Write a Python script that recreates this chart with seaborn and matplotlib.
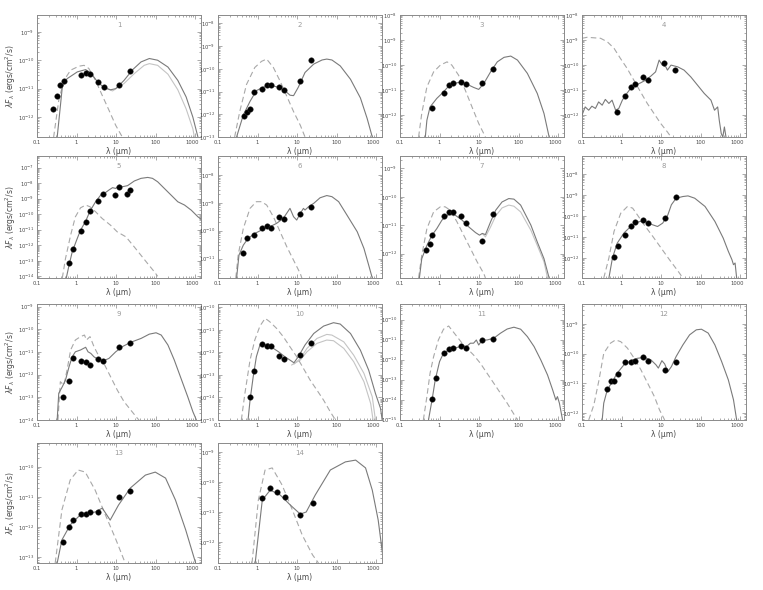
import numpy as np
import matplotlib
matplotlib.use("Agg")
import matplotlib.pyplot as plt
import matplotlib.transforms as mtransforms
import seaborn as sns
from matplotlib.ticker import LogLocator, FixedLocator, FixedFormatter, NullFormatter

sns.set_style("ticks")
plt.rcParams['font.family'] = ['DejaVu Sans']
plt.rcParams['mathtext.fontset'] = 'dejavusans'

# ---------------- data (log10 wavelength [um], log10 lambda*F_lambda [erg/cm2/s]) ----------------
xtick_values = [0.1, 1, 10, 100, 1000]
xtick_labels = ["0.1", "1", "10", "100", "1000"]
panel_ids = [1, 2, 3, 4, 5, 6, 7, 8, 9, 10, 11, 12, 13, 14]
ylims = [(-12.7, -8.41), (-13.0, -7.63), (-12.87, -8.0), (-12.87, -8.0),
         (-14.11, -6.25), (-11.70, -7.32), (-12.86, -8.56), (-12.93, -7.15),
         (-14.0, -8.88), (-15.0, -9.85), (-15.02, -9.22), (-12.24, -8.33),
         (-13.2, -9.2), (-12.7, -8.7)]

# panel 1
obs1_x = [-0.60, -0.49, -0.42, -0.33, 0.10, 0.24, 0.34, 0.53, 0.69, 1.08, 1.36]
obs1_y = [-11.71, -11.26, -10.88, -10.73, -10.51, -10.44, -10.48, -10.75, -10.95, -10.87, -10.38]
mod1_x = [-0.49, -0.42, -0.36, -0.24, 0.02, 0.23, 0.36, 0.53, 0.69, 0.86, 0.99, 1.20, 1.42, 1.63, 1.84, 2.05, 2.31, 2.56, 2.77, 2.94, 3.07]
mod1_y = [-12.71, -11.76, -10.94, -10.65, -10.41, -10.33, -10.45, -10.76, -10.96, -11.04, -11.00, -10.71, -10.33, -10.06, -9.94, -10.00, -10.24, -10.71, -11.29, -12.00, -12.71]
mod1b_x = [0.69, 0.91, 1.20, 1.46, 1.71, 1.84, 2.05, 2.31, 2.56, 2.77, 2.94, 2.98]
mod1b_y = [-10.96, -11.08, -10.82, -10.47, -10.18, -10.12, -10.18, -10.49, -11.04, -11.71, -12.41, -12.71]
star1_x = [-0.58, -0.45, -0.32, -0.15, 0.06, 0.19, 0.31, 0.48, 0.65, 0.82, 0.99, 1.16]
star1_y = [-12.71, -11.41, -10.71, -10.35, -10.21, -10.18, -10.29, -10.71, -11.24, -11.76, -12.29, -12.71]

# panel 2
obs2_x = [-0.35, -0.26, -0.19, -0.08, 0.10, 0.25, 0.34, 0.53, 0.68, 1.08, 1.36]
obs2_y = [-12.06, -11.88, -11.76, -11.03, -10.90, -10.73, -10.73, -10.78, -10.91, -10.54, -9.61]
mod2_x = [-0.53, -0.36, -0.19, -0.03, 0.14, 0.31, 0.53, 0.69, 0.82, 0.91, 1.03, 1.20, 1.42, 1.63, 1.75, 1.88, 2.09, 2.35, 2.60, 2.77, 2.90]
mod2_y = [-13.0, -12.03, -11.43, -10.96, -10.81, -10.72, -10.81, -10.96, -11.16, -11.18, -10.81, -10.16, -9.79, -9.61, -9.57, -9.61, -9.87, -10.46, -11.28, -12.18, -13.0]
star2_x = [-0.58, -0.45, -0.28, -0.07, 0.10, 0.23, 0.40, 0.57, 0.74, 0.91, 1.08, 1.20]
star2_y = [-13.0, -11.88, -10.69, -9.94, -9.67, -9.57, -9.94, -10.54, -11.21, -11.88, -12.48, -13.0]

# panel 3
obs3_x = [-0.19, 0.10, 0.23, 0.34, 0.53, 0.68, 1.08, 1.36]
obs3_y = [-11.73, -11.13, -10.80, -10.71, -10.67, -10.77, -10.73, -10.17]
mod3_x = [-0.36, -0.32, -0.24, -0.07, 0.10, 0.23, 0.36, 0.53, 0.69, 0.86, 0.99, 1.12, 1.29, 1.46, 1.63, 1.80, 1.97, 2.22, 2.47, 2.64, 2.77]
mod3_y = [-12.87, -12.2, -11.67, -11.33, -11.07, -10.84, -10.73, -10.68, -10.76, -10.89, -10.97, -10.73, -10.27, -9.87, -9.69, -9.64, -9.80, -10.33, -11.13, -11.93, -12.87]
star3_x = [-0.53, -0.45, -0.32, -0.15, 0.02, 0.19, 0.31, 0.48, 0.65, 0.82, 0.99, 1.16]
star3_y = [-12.87, -11.93, -10.87, -10.27, -10.0, -9.87, -10.0, -10.4, -11.0, -11.67, -12.33, -12.87]

# panel 4
obs4_x = [-0.11, 0.08, 0.23, 0.34, 0.53, 0.67, 1.08, 1.35]
obs4_y = [-11.87, -11.24, -10.87, -10.76, -10.49, -10.6, -9.93, -10.2]
mod4_x = [-1.0, -0.92, -0.83, -0.75, -0.66, -0.58, -0.49, -0.41, -0.32, -0.24, -0.15, -0.07, 0.02, 0.10, 0.23, 0.36, 0.48, 0.61, 0.74, 0.86, 0.95, 1.03, 1.12, 1.16, 1.25, 1.42, 1.58, 1.75, 1.92, 2.09, 2.26, 2.35, 2.43, 2.47, 2.52, 2.56, 2.60, 2.64]
mod4_y = [-12.0, -11.67, -11.8, -11.64, -11.73, -11.47, -11.6, -11.37, -11.53, -11.4, -11.8, -11.73, -11.4, -11.2, -10.93, -10.8, -10.71, -10.6, -10.44, -10.27, -9.8, -10.0, -10.07, -10.2, -10.0, -10.07, -10.2, -10.47, -10.8, -11.13, -11.4, -11.8, -11.67, -12.2, -12.73, -12.87, -12.47, -12.87]
star4_x = [-1.0, -0.87, -0.70, -0.53, -0.36, -0.19, -0.03, 0.14, 0.31, 0.48, 0.65, 0.82, 0.99, 1.16, 1.25]
star4_y = [-8.93, -8.89, -8.91, -8.93, -9.07, -9.33, -9.73, -10.13, -10.6, -11.07, -11.53, -11.93, -12.33, -12.67, -12.87]

# panel 5
obs5_x = [-0.18, -0.08, 0.10, 0.23, 0.34, 0.53, 0.68, 0.97, 1.08, 1.27, 1.36]
obs5_y = [-13.12, -12.22, -11.09, -10.49, -9.78, -9.16, -8.72, -8.77, -8.27, -8.70, -8.44]
mod5_x = [-0.26, -0.19, -0.11, 0.0, 0.10, 0.23, 0.34, 0.48, 0.61, 0.74, 0.82, 0.91, 0.99, 1.08, 1.16, 1.29, 1.46, 1.63, 1.80, 1.92, 2.05, 2.22, 2.39, 2.56, 2.73, 2.90, 3.07, 3.15]
mod5_y = [-14.11, -13.29, -12.43, -11.68, -11.03, -10.45, -9.80, -9.20, -8.77, -8.59, -8.44, -8.29, -8.34, -8.12, -8.23, -8.16, -7.86, -7.69, -7.63, -7.69, -7.91, -8.34, -8.77, -9.20, -9.41, -9.74, -10.17, -10.32]
star5_x = [-0.36, -0.28, -0.15, -0.03, 0.10, 0.23, 0.34, 0.48, 0.65, 0.86, 1.03, 1.25, 1.46, 1.63, 1.80, 1.97, 2.05]
star5_y = [-14.11, -12.86, -11.35, -10.17, -9.59, -9.41, -9.52, -9.84, -10.28, -10.71, -11.14, -11.46, -12.11, -12.65, -13.19, -13.72, -14.0]

# panel 6
obs6_x = [-0.36, -0.26, -0.09, 0.10, 0.23, 0.34, 0.53, 0.68, 1.08, 1.36]
obs6_y = [-10.80, -10.28, -10.14, -9.90, -9.84, -9.90, -9.51, -9.58, -9.40, -9.14]
mod6_x = [-0.53, -0.47, -0.36, -0.24, -0.07, 0.10, 0.31, 0.48, 0.65, 0.82, 0.91, 0.99, 1.08, 1.16, 1.20, 1.29, 1.42, 1.58, 1.75, 1.88, 2.05, 2.26, 2.52, 2.69, 2.81, 2.90]
mod6_y = [-11.70, -10.88, -10.52, -10.28, -10.10, -9.98, -9.86, -9.74, -9.56, -9.20, -9.50, -9.62, -9.38, -9.20, -9.26, -9.14, -9.02, -8.82, -8.74, -8.78, -8.96, -9.44, -10.04, -10.64, -11.24, -11.70]
star6_x = [-0.55, -0.49, -0.36, -0.19, -0.03, 0.10, 0.23, 0.40, 0.57, 0.74, 0.91, 1.08, 1.12]
star6_y = [-11.70, -10.88, -9.92, -9.20, -8.96, -8.96, -9.08, -9.50, -10.04, -10.58, -11.06, -11.54, -11.70]

# panel 7
obs7_x = [-0.35, -0.25, -0.18, 0.10, 0.23, 0.34, 0.53, 0.68, 1.08, 1.36]
obs7_y = [-11.88, -11.67, -11.33, -10.67, -10.53, -10.55, -10.68, -10.91, -11.56, -10.59]
mod7_x = [-0.51, -0.45, -0.32, -0.19, -0.07, 0.06, 0.23, 0.40, 0.57, 0.74, 0.91, 1.01, 1.08, 1.16, 1.29, 1.42, 1.58, 1.75, 1.88, 2.05, 2.31, 2.47, 2.64, 2.77]
mod7_y = [-12.86, -12.18, -11.71, -11.35, -11.12, -10.82, -10.62, -10.65, -10.82, -11.06, -11.26, -11.35, -11.29, -11.33, -10.88, -10.47, -10.18, -10.06, -10.08, -10.29, -11.0, -11.59, -12.18, -12.86]
mod7b_x = [1.08, 1.16, 1.29, 1.42, 1.58, 1.75, 1.88, 2.05, 2.31, 2.47, 2.64, 2.73]
mod7b_y = [-11.29, -11.41, -11.06, -10.67, -10.39, -10.29, -10.33, -10.53, -11.18, -11.71, -12.29, -12.86]
star7_x = [-0.53, -0.45, -0.32, -0.15, 0.02, 0.14, 0.27, 0.44, 0.61, 0.78, 0.95, 1.12, 1.16]
star7_y = [-12.86, -12.06, -11.12, -10.53, -10.35, -10.35, -10.47, -10.88, -11.35, -11.82, -12.29, -12.71, -12.86]

# panel 8
obs8_x = [-0.19, -0.09, 0.09, 0.23, 0.34, 0.55, 0.68, 1.09, 1.37]
obs8_y = [-11.95, -11.40, -10.88, -10.46, -10.30, -10.19, -10.33, -10.09, -9.10]
mod8_x = [-0.32, -0.23, -0.11, 0.06, 0.23, 0.40, 0.57, 0.74, 0.91, 1.04, 1.17, 1.26, 1.38, 1.55, 1.68, 1.85, 2.11, 2.36, 2.57, 2.70, 2.79, 2.83, 2.87, 2.91]
mod8_y = [-12.93, -11.98, -11.28, -10.80, -10.49, -10.28, -10.22, -10.38, -10.49, -10.33, -9.94, -9.46, -9.15, -9.07, -9.04, -9.15, -9.54, -10.25, -11.04, -11.67, -12.06, -12.30, -12.22, -12.93]
star8_x = [-0.45, -0.32, -0.19, -0.02, 0.15, 0.28, 0.40, 0.57, 0.79, 1.0, 1.21, 1.43, 1.55]
star8_y = [-12.93, -11.98, -10.72, -9.86, -9.54, -9.62, -9.94, -10.41, -10.96, -11.51, -12.06, -12.61, -12.93]

# panel 9
obs9_x = [-0.35, -0.18, -0.08, 0.10, 0.24, 0.34, 0.53, 0.68, 1.08, 1.36]
obs9_y = [-13.0, -12.26, -11.28, -11.40, -11.46, -11.57, -11.32, -11.40, -10.79, -10.62]
mod9_x = [-0.49, -0.45, -0.36, -0.28, -0.19, -0.11, -0.03, 0.10, 0.23, 0.29, 0.36, 0.44, 0.57, 0.69, 0.82, 0.99, 1.16, 1.37, 1.63, 1.84, 2.01, 2.14, 2.31, 2.47, 2.64, 2.81, 2.94, 3.03]
mod9_y = [-14.0, -12.82, -12.53, -12.24, -11.65, -11.21, -10.99, -10.91, -10.79, -10.99, -11.06, -11.21, -11.35, -11.38, -11.28, -10.99, -10.76, -10.57, -10.40, -10.21, -10.15, -10.25, -10.69, -11.35, -12.16, -12.97, -13.63, -14.0]
star9_x = [-0.47, -0.41, -0.32, -0.24, -0.15, -0.03, 0.10, 0.20, 0.25, 0.34, 0.44, 0.57, 0.69, 0.86, 1.03, 1.20, 1.37, 1.54, 1.58]
star9_y = [-14.0, -12.31, -12.46, -11.79, -10.91, -10.47, -10.32, -10.25, -10.47, -10.32, -10.76, -11.21, -11.50, -12.09, -12.68, -13.19, -13.56, -13.93, -14.0]

# panel 10
obs10_x = [-0.19, -0.09, 0.10, 0.25, 0.34, 0.53, 0.68, 1.08, 1.36]
obs10_y = [-14.0, -12.81, -11.64, -11.72, -11.72, -12.15, -12.27, -12.13, -11.57]
mod10_x = [-0.24, -0.19, -0.11, -0.03, 0.06, 0.19, 0.27, 0.40, 0.53, 0.69, 0.82, 0.92, 1.03, 1.20, 1.42, 1.67, 1.92, 2.09, 2.35, 2.60, 2.81, 2.98, 3.11, 3.15]
mod10_y = [-15.0, -14.12, -13.08, -12.19, -11.67, -11.67, -11.60, -11.82, -11.97, -12.19, -12.34, -12.46, -12.19, -11.67, -11.16, -10.83, -10.68, -10.74, -11.16, -11.90, -12.79, -13.82, -14.49, -15.0]
mod10b_x = [0.92, 1.08, 1.25, 1.50, 1.75, 1.88, 2.18, 2.43, 2.69, 2.90, 2.98]
mod10b_y = [-12.52, -12.27, -11.82, -11.38, -11.20, -11.23, -11.53, -12.12, -12.93, -13.97, -15.0]
mod10c_x = [0.86, 1.08, 1.25, 1.50, 1.75, 1.92, 2.18, 2.43, 2.69, 2.86, 2.92]
mod10c_y = [-12.56, -12.34, -11.97, -11.60, -11.45, -11.48, -11.82, -12.41, -13.30, -14.27, -15.0]
star10_x = [-0.41, -0.32, -0.19, -0.07, 0.06, 0.19, 0.25, 0.31, 0.48, 0.65, 0.82, 0.99, 1.16, 1.33, 1.50, 1.67, 1.84, 1.97]
star10_y = [-15.0, -13.82, -12.34, -11.45, -10.83, -10.49, -10.56, -10.64, -10.93, -11.30, -11.75, -12.19, -12.71, -13.23, -13.67, -14.12, -14.64, -15.0]

# panel 11
obs11_x = [-0.19, -0.09, 0.10, 0.23, 0.34, 0.53, 0.68, 1.08, 1.36]
obs11_y = [-13.98, -12.93, -11.65, -11.47, -11.40, -11.30, -11.40, -11.02, -10.97]
mod11_x = [-0.28, -0.19, -0.11, 0.0, 0.10, 0.23, 0.36, 0.53, 0.68, 0.78, 0.86, 0.93, 0.99, 1.08, 1.20, 1.37, 1.54, 1.71, 1.88, 2.05, 2.22, 2.39, 2.56, 2.73, 2.86, 2.94, 2.98, 3.03, 3.11]
mod11_y = [-15.02, -14.02, -13.02, -12.10, -11.68, -11.52, -11.43, -11.35, -11.35, -11.18, -11.18, -11.02, -11.27, -11.02, -11.02, -10.93, -10.68, -10.47, -10.38, -10.48, -10.85, -11.35, -12.02, -12.77, -13.52, -14.02, -13.85, -14.18, -15.02]
star11_x = [-0.41, -0.32, -0.24, -0.15, -0.03, 0.10, 0.23, 0.31, 0.44, 0.57, 0.69, 0.86, 1.03, 1.20, 1.37, 1.54, 1.71, 1.84, 1.97]
star11_y = [-15.02, -13.85, -12.68, -11.85, -11.02, -10.48, -10.32, -10.52, -10.85, -11.18, -11.43, -11.77, -12.18, -12.68, -13.18, -13.68, -14.18, -14.60, -15.02]

# panel 12
obs12_x = [-0.36, -0.26, -0.19, -0.09, 0.09, 0.23, 0.34, 0.55, 0.68, 1.09, 1.37]
obs12_y = [-11.20, -10.94, -10.94, -10.69, -10.30, -10.27, -10.24, -10.12, -10.25, -10.57, -10.30]
mod12_x = [-0.49, -0.45, -0.36, -0.23, -0.11, 0.06, 0.23, 0.40, 0.57, 0.74, 0.87, 0.93, 1.02, 1.09, 1.17, 1.26, 1.38, 1.55, 1.72, 1.89, 2.02, 2.19, 2.36, 2.53, 2.70, 2.83, 2.91]
mod12_y = [-12.24, -11.67, -11.22, -10.94, -10.66, -10.38, -10.24, -10.16, -10.13, -10.21, -10.38, -10.49, -10.24, -10.35, -10.61, -10.44, -10.10, -9.71, -9.37, -9.20, -9.18, -9.31, -9.71, -10.27, -10.89, -11.56, -12.24]
star12_x = [-0.83, -0.70, -0.57, -0.45, -0.28, -0.15, -0.02, 0.15, 0.32, 0.49, 0.66, 0.83, 0.96, 1.09]
star12_y = [-12.24, -11.73, -10.89, -9.99, -9.65, -9.54, -9.60, -9.82, -10.16, -10.55, -11.0, -11.45, -11.90, -12.24]

# panel 13
obs13_x = [-0.35, -0.19, -0.09, 0.10, 0.23, 0.34, 0.53, 1.08, 1.36]
obs13_y = [-12.5, -12.0, -11.75, -11.55, -11.55, -11.5, -11.5, -11.0, -10.8]
mod13_x = [-0.49, -0.37, -0.16, 0.09, 0.47, 0.65, 0.85, 1.06, 1.36, 1.74, 1.99, 2.25, 2.50, 2.76, 3.01]
mod13_y = [-13.2, -12.43, -11.93, -11.6, -11.5, -11.37, -11.77, -11.27, -10.7, -10.27, -10.17, -10.37, -11.1, -12.1, -13.2]
star13_x = [-0.54, -0.37, -0.16, 0.04, 0.22, 0.47, 0.73, 0.98, 1.23]
star13_y = [-13.2, -11.43, -10.43, -10.1, -10.17, -10.77, -11.6, -12.37, -13.2]

# panel 14
obs14_x = [0.12, 0.32, 0.50, 0.70, 1.08, 1.39]
obs14_y = [-10.53, -10.2, -10.33, -10.5, -11.1, -10.7]
mod14_x = [-0.06, 0.12, 0.32, 0.57, 0.83, 1.08, 1.23, 1.46, 1.84, 2.22, 2.48, 2.73, 2.90, 3.05, 3.19]
mod14_y = [-12.7, -10.6, -10.27, -10.43, -10.77, -11.07, -11.0, -10.43, -9.6, -9.33, -9.27, -9.53, -10.27, -11.27, -12.7]
star14_x = [-0.14, 0.02, 0.19, 0.37, 0.62, 0.88, 1.13, 1.39, 1.54]
star14_y = [-12.7, -10.6, -9.6, -9.53, -10.1, -10.93, -11.77, -12.43, -12.7]

# ---------------- assembly ----------------
g = globals()
panels = []
for k, pid in enumerate(panel_ids):
    extras = []
    for suf in ("b", "c"):
        if f"mod{pid}{suf}_x" in g:
            extras.append((g[f"mod{pid}{suf}_x"], g[f"mod{pid}{suf}_y"]))
    panels.append(dict(pid=pid,
                       obs=(g[f"obs{pid}_x"], g[f"obs{pid}_y"]),
                       mod=(g[f"mod{pid}_x"], g[f"mod{pid}_y"]),
                       star=(g[f"star{pid}_x"], g[f"star{pid}_y"]),
                       extras=extras, ylim=ylims[k]))

def L(v):
    return 10.0 ** np.asarray(v, dtype=float)

W, H = 763, 590
fig = plt.figure(figsize=(W / 100, H / 100), dpi=100)
col_left = [37, 218, 400, 582]
row_top = [15, 156, 304, 443]
row_bot = [137, 278, 420, 563]
aw = 164

FRAME = "#8a8a8a"
MODC = "#7a7a7a"
EXTRAC = "#c4c4c4"
STARC = "#a8a8a8"
TXT = "#4a4a4a"

axes = []
for i, p in enumerate(panels):
    r, c = divmod(i, 4)
    ax = fig.add_axes([col_left[c] / W, 1 - row_bot[r] / H, aw / W,
                       (row_bot[r] - row_top[r]) / H])
    axes.append(ax)
    for ex, ey in p["extras"]:
        sns.lineplot(x=L(ex), y=L(ey), ax=ax, color=EXTRAC, lw=0.8,
                     estimator=None, sort=False, zorder=2)
    sx, sy = p["star"]
    sns.lineplot(x=L(sx), y=L(sy), ax=ax, color=STARC, lw=0.8,
                 linestyle=(0, (5, 3)), estimator=None, sort=False, zorder=2)
    mx, my = p["mod"]
    sns.lineplot(x=L(mx), y=L(my), ax=ax, color=MODC, lw=0.8,
                 estimator=None, sort=False, zorder=3)
    ox, oy = p["obs"]
    sns.scatterplot(x=L(ox), y=L(oy), ax=ax, color="black", s=16,
                    edgecolor="#333333", linewidth=0.3, zorder=5)
    ax.set_xscale("log")
    ax.set_yscale("log")
    ax.set_xlim(0.1, 1400)
    lo, hi = p["ylim"]
    ax.set_ylim(L(lo), L(hi))
    decades = list(range(int(np.ceil(lo)), int(np.floor(hi)) + 1))
    ax.xaxis.set_major_locator(FixedLocator(xtick_values))
    ax.xaxis.set_major_formatter(FixedFormatter(xtick_labels))
    ax.xaxis.set_minor_locator(LogLocator(base=10, subs=np.arange(2, 10), numticks=30))
    ax.xaxis.set_minor_formatter(NullFormatter())
    ax.yaxis.set_major_locator(FixedLocator(L(decades)))
    ax.yaxis.set_major_formatter(FixedFormatter([r"$10^{%d}$" % d for d in decades]))
    ax.yaxis.set_minor_locator(LogLocator(base=10, subs=np.arange(2, 10), numticks=30))
    ax.yaxis.set_minor_formatter(NullFormatter())
    ax.tick_params(which="both", direction="in", top=True, right=True,
                   color=FRAME, labelsize=3.8, labelcolor=TXT, width=0.5, pad=2)
    ax.tick_params(which="major", length=3)
    ax.tick_params(which="minor", length=1.5)
    for s in ax.spines.values():
        s.set_color(FRAME)
        s.set_linewidth(0.7)
    ax.set_xlabel("λ (μm)", fontsize=5.5, labelpad=1.5, color=TXT)
    if c == 0:
        ax.set_ylabel(r"$\lambda F_\lambda$ (ergs/cm$^2$/s)", fontsize=5.5,
                      color=TXT)
        ax.yaxis.set_label_coords(-0.118, 0.5)
    else:
        ax.set_ylabel("")
    ax.text(0.5, 0.94, str(p["pid"]), transform=ax.transAxes, ha="center",
            va="top", fontsize=5, color="#9a9a9a")

# keep the "1000" tick label clear of the neighbouring panel's labels
fig.canvas.draw()
shift = mtransforms.ScaledTranslation(-3 / 100, 0, fig.dpi_scale_trans)
for ax in axes:
    lab = ax.xaxis.get_major_ticks()[-1].label1
    lab.set_transform(lab.get_transform() + shift)

fig.savefig("out.png", dpi=100)
